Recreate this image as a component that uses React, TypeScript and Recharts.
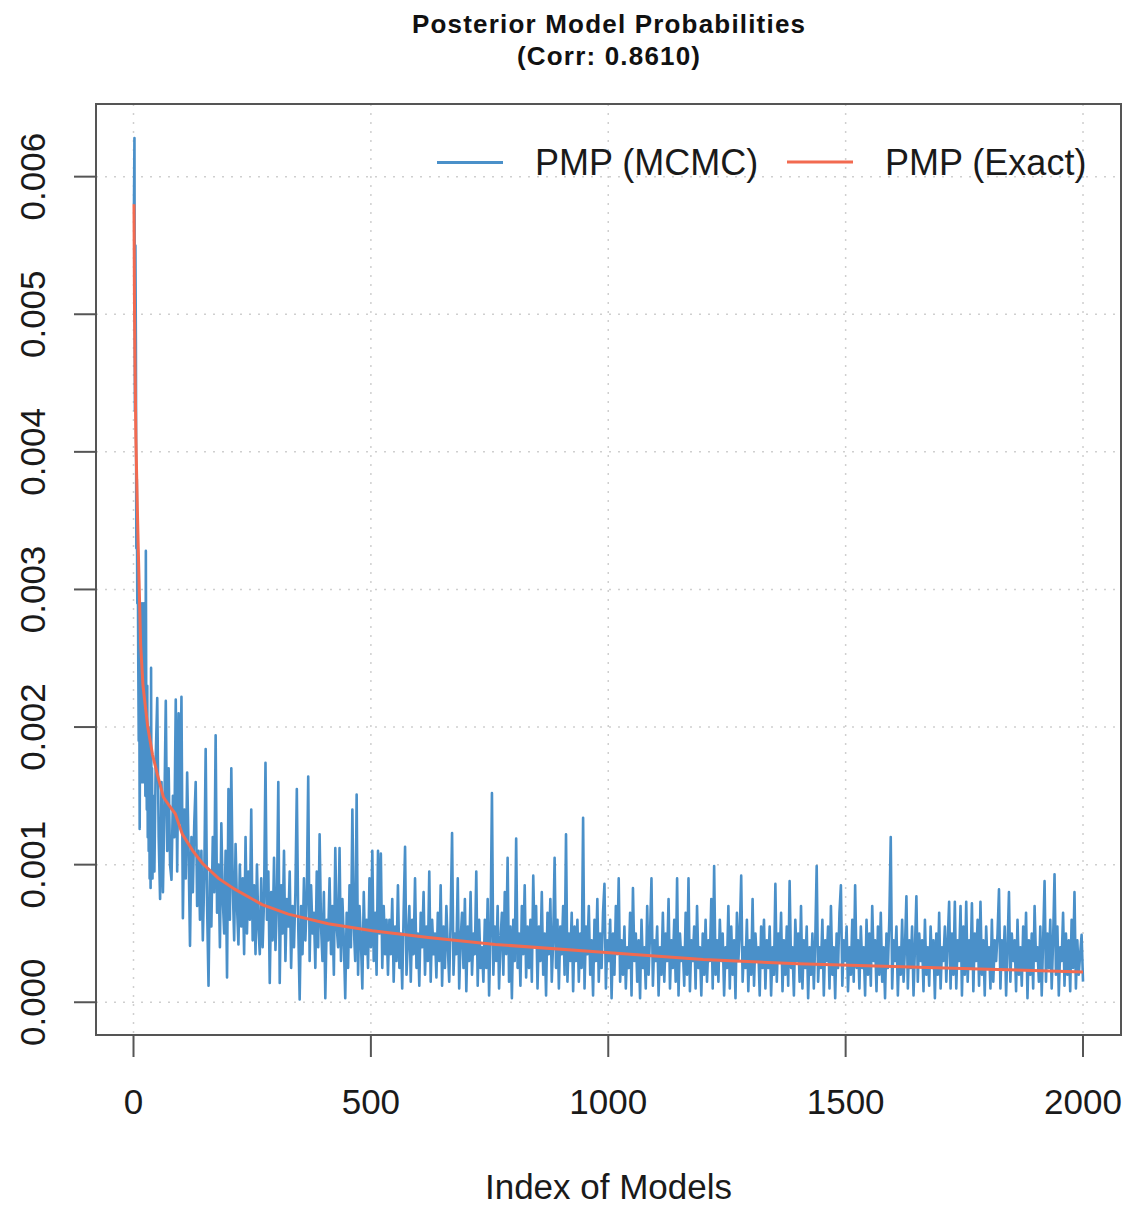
import { LineChart, Line, XAxis, YAxis, CartesianGrid } from 'recharts';

const FONT = '"Liberation Sans", Arial, Helvetica, sans-serif';
const BLUE = '#4A90C9';
const RED = '#F26A50';

// axis ticks
const xTicks = [0, 500, 1000, 1500, 2000];
const yTicks = [0, 0.001, 0.002, 0.003, 0.004, 0.005, 0.006];

// PMP (MCMC), in units of 1e-5, models 1..40 one by one
const mcmcHeadE5 = [
    580, 628, 430, 550, 480, 330, 380, 290, 330, 250, 190, 270, 126, 220, 170, 250, 160, 290, 180, 260,
    160, 290, 170, 240, 150, 328, 190, 140, 230, 120, 200, 110, 190, 90, 160, 83, 243, 110, 170, 90,
];

// PMP (MCMC), in units of 1e-5, models 41..2000, every 3rd model (33 per row)
const mcmcTailE5 = [
    150, 95, 180, 221, 120, 75, 160, 80, 140, 219, 110, 170, 100, 89, 150, 120, 220, 95, 210, 130, 222, 61, 140, 90, 167, 110, 41, 120, 80, 130, 160, 70, 110,
    60, 110, 45, 90, 184, 70, 12, 95, 55, 120, 80, 194, 65, 100, 40, 130, 75, 50, 110, 18, 155, 60, 170, 85, 45, 115, 70, 42, 100, 55, 90, 35, 120,
    50, 95, 60, 140, 45, 85, 35, 100, 55, 35, 90, 40, 75, 174, 60, 95, 14, 80, 45, 105, 38, 70, 160, 14, 85, 50, 110, 30, 75, 55, 95, 25, 70,
    40, 80, 155, 55, 2, 70, 35, 90, 45, 75, 164, 30, 85, 50, 65, 25, 95, 40, 122, 55, 30, 80, 3, 60, 45, 90, 35, 70, 20, 112, 55, 40, 112,
    30, 75, 45, 3, 65, 25, 85, 40, 140, 55, 30, 151, 20, 70, 45, 10, 80, 35, 60, 25, 90, 40, 110, 30, 65, 20, 110, 50, 108, 25, 70, 35, 60,
    20, 60, 35, 75, 15, 55, 30, 85, 25, 50, 10, 65, 113, 20, 45, 70, 15, 60, 35, 90, 25, 50, 12, 65, 40, 80, 20, 55, 30, 95, 15, 60, 35,
    50, 18, 65, 30, 85, 12, 55, 25, 70, 40, 15, 60, 123, 20, 50, 35, 90, 10, 45, 65, 25, 75, 8, 55, 30, 80, 20, 50, 35, 95, 12, 60, 25,
    40, 15, 60, 25, 75, 5, 50, 152, 20, 55, 30, 70, 10, 45, 65, 20, 80, 35, 105, 15, 55, 3, 60, 30, 119, 25, 50, 12, 70, 35, 85, 18, 55,
    25, 60, 15, 92, 40, 70, 10, 55, 30, 80, 20, 50, 5, 65, 35, 75, 15, 45, 105, 25, 60, 10, 55, 35, 70, 20, 122, 15, 50, 30, 65, 8, 55,
    30, 60, 15, 50, 25, 134, 10, 55, 35, 70, 20, 45, 5, 60, 30, 75, 15, 50, 25, 65, 86, 10, 45, 30, 60, 3, 50, 20, 70, 35, 90, 15, 45,
    20, 55, 10, 40, 25, 65, 5, 83, 30, 50, 15, 45, 3, 60, 25, 40, 10, 70, 20, 50, 90, 12, 45, 30, 55, 5, 40, 20, 65, 15, 50, 30, 75,
    10, 45, 25, 60, 15, 90, 5, 50, 30, 40, 12, 65, 20, 90, 8, 45, 30, 55, 10, 70, 25, 40, 5, 50, 20, 60, 15, 45, 30, 75, 10, 99, 20,
    45, 15, 60, 30, 50, 5, 40, 25, 70, 10, 55, 20, 45, 3, 65, 30, 50, 92, 15, 40, 25, 60, 8, 45, 20, 75, 12, 50, 30, 40, 5, 55, 25,
    60, 10, 45, 25, 55, 5, 40, 20, 86, 15, 50, 30, 65, 8, 45, 20, 55, 12, 88, 25, 40, 5, 60, 30, 50, 15, 70, 10, 45, 25, 55, 3, 40,
    20, 50, 10, 45, 99, 15, 40, 25, 60, 5, 45, 30, 55, 10, 70, 20, 40, 3, 50, 25, 65, 85, 12, 45, 30, 55, 8, 40, 20, 60, 15, 85, 25,
    45, 10, 55, 25, 40, 5, 60, 20, 50, 12, 70, 30, 45, 8, 55, 20, 65, 15, 40, 3, 50, 25, 60, 120, 10, 45, 30, 55, 5, 40, 20, 60, 15,
    40, 77, 10, 45, 25, 55, 5, 40, 77, 15, 50, 30, 45, 8, 60, 20, 40, 12, 55, 25, 45, 3, 50, 20, 65, 10, 40, 30, 55, 15, 45, 73, 10,
    50, 20, 73, 10, 45, 30, 70, 5, 55, 20, 73, 15, 45, 25, 72, 8, 50, 30, 60, 12, 73, 20, 45, 5, 55, 25, 40, 10, 60, 15, 45, 30, 50,
    82, 10, 45, 25, 55, 5, 40, 80, 15, 50, 30, 45, 8, 60, 20, 40, 12, 55, 25, 65, 3, 45, 20, 50, 10, 70, 30, 40, 15, 55, 5, 45, 88,
    15, 50, 25, 60, 10, 45, 93, 20, 55, 5, 40, 30, 65, 12, 50, 20, 45, 8, 60, 25, 80, 10, 45, 20, 35, 49, 15,
];

// PMP (Exact)
const exactIdx = [1, 2, 3, 4, 5, 8, 10, 15, 20, 30, 40, 50, 63, 75, 88, 103, 125, 145, 179, 214, 271, 326, 410, 503, 621, 762, 1003, 1200, 1400, 1600, 1800, 2000];
const exactPmp = [0.0058, 0.0051, 0.0047, 0.0044, 0.0041, 0.0036, 0.0033, 0.0026, 0.0023, 0.002, 0.0018, 0.00166, 0.00149, 0.00143, 0.00137, 0.00122, 0.0011, 0.00101, 0.0009, 0.00082, 0.00071, 0.00064, 0.00057, 0.00052, 0.00047, 0.00042, 0.00036, 0.00031, 0.00028, 0.00026, 0.00024, 0.00022];

const mcmcData = [
    ...mcmcHeadE5.map((v, i) => ({ idx: i + 1, pmp: v / 1e5 })),
    ...mcmcTailE5.map((v, i) => ({ idx: 41 + i * 3, pmp: v / 1e5 })),
];
const exactData = exactIdx.map((idx, i) => ({ idx, pmp: exactPmp[i] }));

const XTick = ({ x, y, payload }: any) => (
    <text x={x} y={y + 57} textAnchor="middle" fontSize={35} fontFamily={FONT} fill="#1a1a1a">
        {payload.value}
    </text>
);

const YTick = ({ x, y, payload }: any) => {
    const bx = x - 29;
    return (
        <text x={bx} y={y} transform={`rotate(-90, ${bx}, ${y})`} textAnchor="middle" fontSize={35} fontFamily={FONT} fill="#1a1a1a">
            {Number(payload.value).toFixed(3)}
        </text>
    );
};

export default function App() {
    return (
        <div style={{ position: 'absolute', left: 0, top: 0, width: 1130, height: 1205, background: '#fff', fontFamily: FONT }}>
            <LineChart width={1130} height={1205} margin={{ top: 104, right: 9, bottom: 0, left: 0 }}>
                <CartesianGrid stroke="#cfcfcf" strokeWidth={1.5} strokeDasharray="2 7" />
                <XAxis
                    type="number"
                    dataKey="idx"
                    domain={[-79, 2080]}
                    ticks={xTicks}
                    allowDataOverflow
                    height={170}
                    axisLine={false}
                    tickSize={22}
                    tickMargin={0}
                    tickLine={{ stroke: '#555', strokeWidth: 2 }}
                    tick={<XTick />}
                />
                <YAxis
                    type="number"
                    dataKey="pmp"
                    domain={[-0.000238, 0.006528]}
                    ticks={yTicks}
                    allowDataOverflow
                    width={96}
                    axisLine={false}
                    tickSize={22}
                    tickMargin={0}
                    tickLine={{ stroke: '#555', strokeWidth: 2 }}
                    tick={<YTick />}
                />
                <Line data={mcmcData} dataKey="pmp" type="linear" stroke={BLUE} strokeWidth={2.6} strokeLinejoin="round" dot={false} isAnimationActive={false} />
                <Line data={exactData} dataKey="pmp" type="linear" stroke={RED} strokeWidth={3} dot={false} isAnimationActive={false} />
            </LineChart>

            {/* plot box */}
            <div style={{ position: 'absolute', left: 95, top: 103, width: 1027, height: 933, border: '2px solid #555', boxSizing: 'border-box', pointerEvents: 'none' }} />

            {/* title, legend, axis label */}
            <svg width={1130} height={1205} style={{ position: 'absolute', left: 0, top: 0, pointerEvents: 'none' }}>
                <text x={608.5} y={33} textAnchor="middle" fontSize={26} fontWeight="bold" fill="#111" textLength={393} lengthAdjust="spacing">
                    Posterior Model Probabilities
                </text>
                <text x={608.5} y={65} textAnchor="middle" fontSize={26} fontWeight="bold" fill="#111" textLength={183} lengthAdjust="spacing">
                    (Corr: 0.8610)
                </text>
                <line x1={437} x2={503} y1={162.5} y2={162.5} stroke={BLUE} strokeWidth={3} />
                <text x={535} y={175} fontSize={36} fill="#1a1a1a">PMP (MCMC)</text>
                <line x1={787} x2={853} y1={162} y2={162} stroke={RED} strokeWidth={3} />
                <text x={885} y={175} fontSize={36} fill="#1a1a1a">PMP (Exact)</text>
                <text x={608.5} y={1199} textAnchor="middle" fontSize={35} fill="#1a1a1a">Index of Models</text>
            </svg>
        </div>
    );
}
